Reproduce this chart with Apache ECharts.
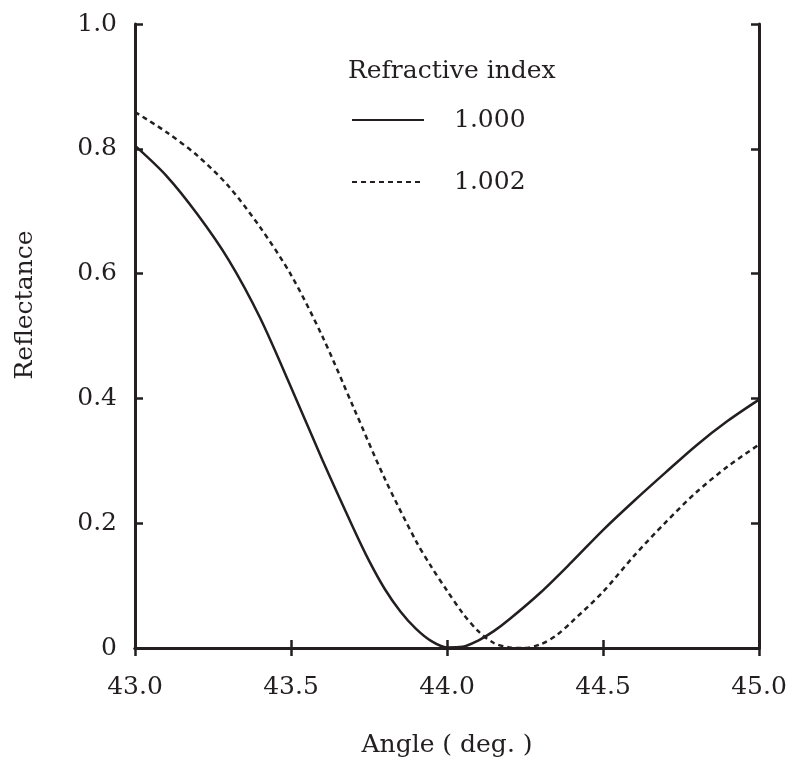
<!DOCTYPE html>
<html><head><meta charset="utf-8">
<script src="https://cdn.jsdelivr.net/npm/echarts@6/dist/echarts.min.js"></script>
<style>html,body{margin:0;padding:0;background:#fff}#c{width:793px;height:764px}</style>
</head><body><div id="c"></div>
<script>
const angles1000 = [43.0,43.1,43.2,43.3,43.4,43.5,43.6,43.7,43.75,43.8,43.85,43.9,43.95,44.0,44.05,44.1,44.15,44.2,44.3,44.4,44.5,44.6,44.7,44.8,44.9,45.0];
const refl1000   = [0.805,0.757,0.695,0.622,0.530,0.418,0.302,0.192,0.140,0.095,0.059,0.031,0.011,0.001,0.002,0.012,0.027,0.046,0.089,0.138,0.189,0.236,0.281,0.325,0.364,0.398];
const angles1002 = [43.0,43.1,43.2,43.3,43.4,43.5,43.6,43.7,43.8,43.9,43.95,44.0,44.05,44.1,44.15,44.2,44.25,44.3,44.35,44.4,44.5,44.6,44.7,44.8,44.9,45.0];
const refl1002   = [0.859,0.827,0.789,0.740,0.675,0.598,0.500,0.386,0.272,0.172,0.130,0.092,0.056,0.027,0.008,0.001,0.000,0.006,0.020,0.042,0.090,0.148,0.201,0.250,0.291,0.326];
const seriesNames = ['1.000','1.002'];
const xTicks = ['43.0','43.5','44.0','44.5','45.0'];
const yTicks = ['0','0.2','0.4','0.6','0.8','1.0'];
const legendTitle = 'Refractive index';
const xTitle = 'Angle ( deg. )';
const yTitle = 'Reflectance';

const ink = '#231f20';
const font = 'DejaVu Serif';
const pairs = (xs, ys) => xs.map((x, i) => [x, ys[i]]);

const axisCommon = {
  axisLine: {show: true, lineStyle: {color: ink, width: 3}},
  axisTick: {show: true, inside: true, length: 8, lineStyle: {color: ink, width: 2.5}},
  splitLine: {show: false}
};

const chart = echarts.init(document.getElementById('c'), null, {renderer: 'canvas'});
chart.setOption({
  backgroundColor: '#fff',
  animation: false,
  grid: {left: 135, top: 24, right: 34, bottom: 116},
  title: {text: legendTitle, left: 343, top: 54,
    textStyle: {fontFamily: font, fontSize: 25, fontWeight: 'normal', color: ink}},
  legend: {
    orient: 'vertical', left: 351, top: 105, padding: 0, itemWidth: 72, itemHeight: 14, itemGap: 32,
    data: seriesNames,
    itemStyle: {opacity: 0},
    textStyle: {fontFamily: font, fontSize: 25, color: ink, lineHeight: 30, padding: [0, 0, 0, 25]}
  },
  xAxis: [
    Object.assign({type: 'value', position: 'bottom', min: 43, max: 45, interval: 0.5,
      axisLabel: {margin: 27, fontFamily: font, fontSize: 25, color: ink,
        formatter: v => xTicks[Math.round((v - 43) / 0.5)]}}, axisCommon),
    Object.assign({type: 'value', position: 'top', min: 43, max: 45, interval: 0.5,
      axisLabel: {show: false}}, axisCommon)
  ],
  yAxis: [
    Object.assign({type: 'value', position: 'left', min: 0, max: 1, interval: 0.2,
      axisLabel: {margin: 18, fontFamily: font, fontSize: 25, color: ink,
        formatter: v => yTicks[Math.round(v / 0.2)]}}, axisCommon),
    Object.assign({type: 'value', position: 'right', min: 0, max: 1, interval: 0.2,
      axisLabel: {show: false}}, axisCommon)
  ],
  graphic: [
    {type: 'text', x: 447, y: 745, style: {text: xTitle, fontFamily: font, fontSize: 25, fill: ink, align: 'center', verticalAlign: 'middle'}},
    {type: 'text', x: 25, y: 305, rotation: Math.PI / 2, style: {text: yTitle, fontFamily: font, fontSize: 25, fill: ink, align: 'center', verticalAlign: 'middle'}}
  ],
  series: [
    {name: seriesNames[0], type: 'line', data: pairs(angles1000, refl1000), smooth: 0.3, showSymbol: false, symbol: 'none',
      lineStyle: {color: ink, width: 2.5, type: 'solid'}, itemStyle: {color: ink}},
    {name: seriesNames[1], type: 'line', data: pairs(angles1002, refl1002), smooth: 0.3, showSymbol: false, symbol: 'none',
      lineStyle: {color: ink, width: 2.5, type: [5, 4]}, itemStyle: {color: ink}}
  ]
});
</script></body></html>
